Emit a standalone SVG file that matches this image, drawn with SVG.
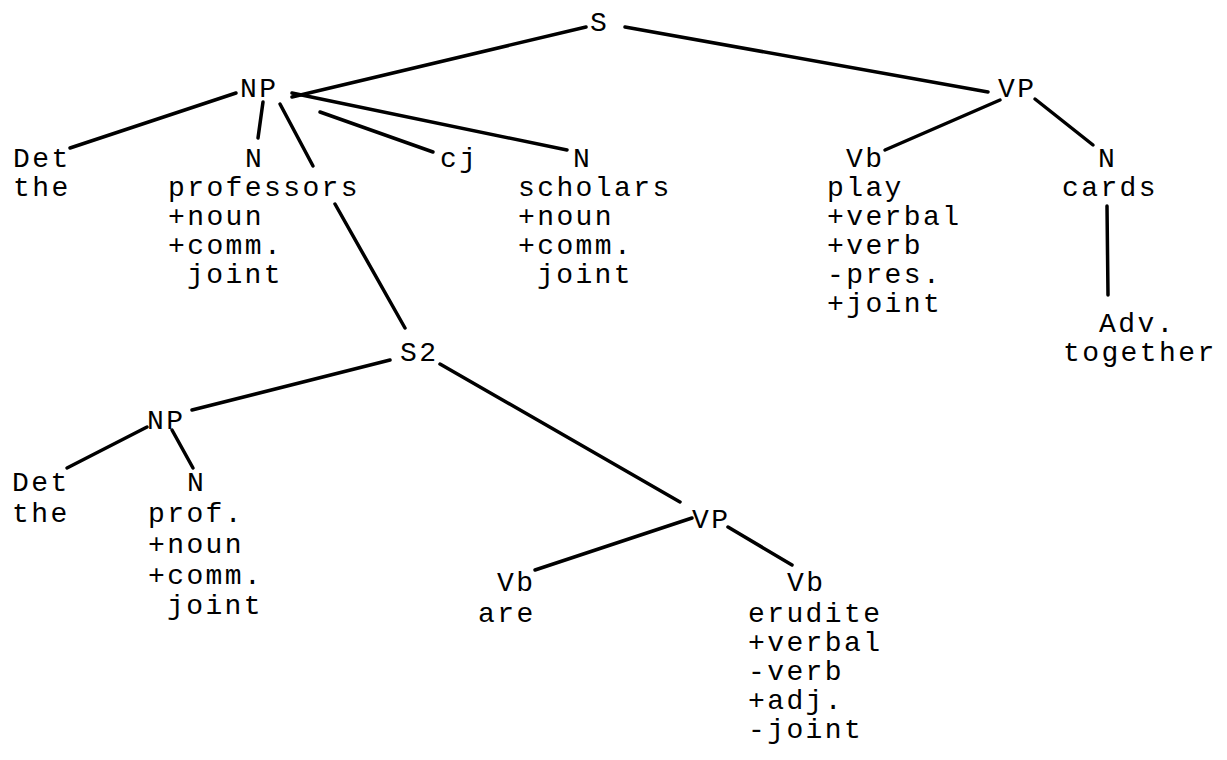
<svg xmlns="http://www.w3.org/2000/svg" width="1227" height="760" viewBox="0 0 1227 760">
<style>
text{font-family:"Liberation Mono","DejaVu Sans Mono",monospace;font-size:28px;letter-spacing:2.4px;fill:#000}
.c line{stroke:#000;stroke-width:3.5;stroke-linecap:round}
</style>
<rect width="1227" height="760" fill="#fff"/>
<g class="c" id="connectors">
<line x1="586" y1="27" x2="292" y2="97"/>
<line x1="625" y1="27" x2="988" y2="92"/>
<line x1="236" y1="93" x2="70" y2="148"/>
<line x1="263" y1="102" x2="258" y2="138"/>
<line x1="280" y1="104" x2="313" y2="166"/>
<line x1="335" y1="204" x2="405" y2="328"/>
<line x1="320" y1="112" x2="433" y2="152"/>
<line x1="292" y1="93" x2="567" y2="150"/>
<line x1="1000" y1="100" x2="885" y2="150"/>
<line x1="1035" y1="99" x2="1093" y2="145"/>
<line x1="1107" y1="206" x2="1108" y2="295"/>
<line x1="390" y1="360" x2="192" y2="410"/>
<line x1="440" y1="364" x2="680" y2="502"/>
<line x1="147" y1="427" x2="67" y2="468"/>
<line x1="172" y1="430" x2="193" y2="468"/>
<line x1="692" y1="518" x2="535" y2="570"/>
<line x1="728" y1="527" x2="792" y2="565"/>
</g>
<g id="n-S"><text x="590" y="31">S</text></g>
<g id="n-NP"><text x="240" y="97">NP</text></g>
<g id="n-VP"><text x="998" y="97">VP</text></g>
<g id="n-Det"><text x="13" y="167">Det</text><text x="13" y="196">the</text></g>
<g id="n-N1"><text x="245" y="167">N</text><text x="168" y="196">professors</text><text x="168" y="225">+noun</text><text x="168" y="254">+comm.</text><text x="187" y="283">joint</text></g>
<g id="n-cj"><text x="440" y="167">cj</text></g>
<g id="n-N2"><text x="573" y="167">N</text><text x="518" y="196">scholars</text><text x="518" y="225">+noun</text><text x="518" y="254">+comm.</text><text x="537" y="283">joint</text></g>
<g id="n-Vb1"><text x="846" y="167">Vb</text><text x="827" y="196">play</text><text x="827" y="225">+verbal</text><text x="827" y="254">+verb</text><text x="827" y="283">-pres.</text><text x="827" y="312">+joint</text></g>
<g id="n-N3"><text x="1098" y="167">N</text><text x="1062" y="196">cards</text></g>
<g id="n-Adv"><text x="1099" y="332">Adv.</text><text x="1063" y="361">together</text></g>
<g id="n-S2"><text x="400" y="361">S2</text></g>
<g id="n-NP2"><text x="147" y="429">NP</text></g>
<g id="n-Det2"><text x="12" y="491">Det</text><text x="12" y="522">the</text></g>
<g id="n-N4"><text x="187" y="491">N</text><text x="148" y="522">prof.</text><text x="148" y="553">+noun</text><text x="148" y="584">+comm.</text><text x="167" y="614">joint</text></g>
<g id="n-VP2"><text x="692" y="528">VP</text></g>
<g id="n-Vb2"><text x="497" y="591">Vb</text><text x="478" y="622">are</text></g>
<g id="n-Vb3"><text x="787" y="591">Vb</text><text x="748" y="622">erudite</text><text x="748" y="651">+verbal</text><text x="748" y="680">-verb</text><text x="748" y="709">+adj.</text><text x="748" y="738">-joint</text></g>
</svg>
